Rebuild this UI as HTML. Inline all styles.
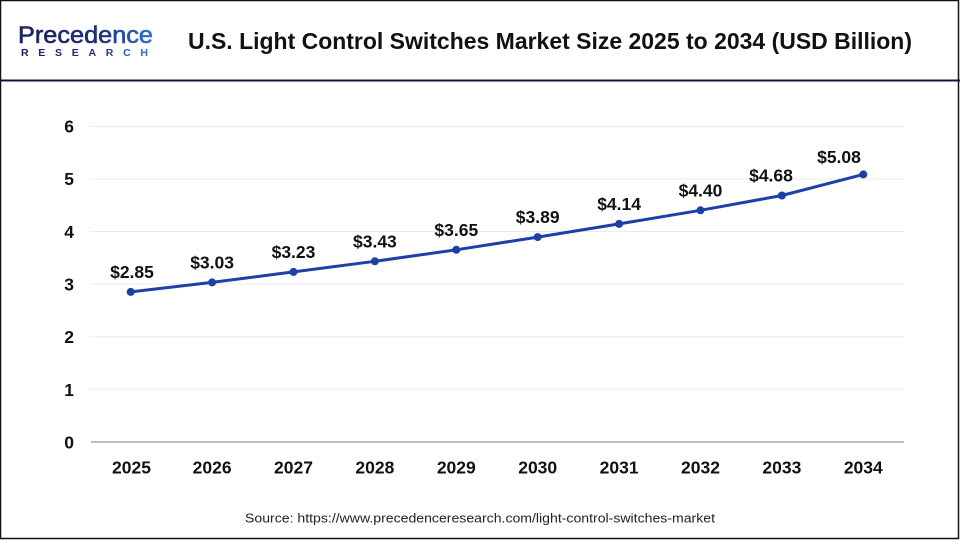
<!DOCTYPE html>
<html><head><meta charset="utf-8"><style>
html,body{margin:0;padding:0;background:#fff;}
svg{display:block;}
</style></head><body>
<svg width="960" height="540" viewBox="0 0 960 540" xmlns="http://www.w3.org/2000/svg">
<defs>
<linearGradient id="lg" x1="0" y1="0" x2="1" y2="0">
<stop offset="0" stop-color="#1b1f5e"/>
<stop offset="0.6" stop-color="#1e2f80"/>
<stop offset="1" stop-color="#2f6fe0"/>
</linearGradient>
</defs>
<rect x="0" y="0" width="960" height="540" fill="#fff"/>
<rect x="0.5" y="0.5" width="958" height="538" fill="none" stroke="#111" stroke-width="1.5"/>
<line x1="0" y1="80.5" x2="960" y2="80.5" stroke="#0d1440" stroke-width="2"/>

<!-- Logo -->
<text x="18" y="43" font-family="Liberation Sans, sans-serif" font-size="24" fill="url(#lg)" stroke="url(#lg)" stroke-width="0.6" textLength="135" lengthAdjust="spacingAndGlyphs">Precedence</text>
<text x="21" y="56" font-family="Liberation Sans, sans-serif" font-weight="bold" font-size="10.5" fill="url(#lg)" textLength="127" lengthAdjust="spacing">RESEARCH</text>

<!-- Title -->
<text x="188" y="49" font-family="Liberation Sans, sans-serif" font-weight="bold" font-size="23.5" fill="#111" textLength="724" lengthAdjust="spacingAndGlyphs">U.S. Light Control Switches Market Size 2025 to 2034 (USD Billion)</text>

<!-- Grid -->
<g stroke="#ebebeb" stroke-width="1">
<line x1="90" y1="126.5" x2="904" y2="126.5"/>
<line x1="90" y1="179" x2="904" y2="179"/>
<line x1="90" y1="231.5" x2="904" y2="231.5"/>
<line x1="90" y1="284" x2="904" y2="284"/>
<line x1="90" y1="336.7" x2="904" y2="336.7"/>
<line x1="90" y1="389.3" x2="904" y2="389.3"/>
</g>
<line x1="91" y1="442" x2="904" y2="442" stroke="#bfbfbf" stroke-width="2"/>

<!-- Y ticks -->
<g font-family="Liberation Sans, sans-serif" font-weight="bold" font-size="17.5" fill="#111" text-anchor="end">
<text x="74" y="132.5">6</text>
<text x="74" y="185.2">5</text>
<text x="74" y="237.8">4</text>
<text x="74" y="290.5">3</text>
<text x="74" y="343.2">2</text>
<text x="74" y="395.8">1</text>
<text x="74" y="448.5">0</text>
</g>

<!-- X ticks -->
<g font-family="Liberation Sans, sans-serif" font-weight="bold" font-size="17.5" fill="#111" text-anchor="middle">
<text x="131.5" y="473.3">2025</text>
<text x="212.1" y="473.3">2026</text>
<text x="293.5" y="473.3">2027</text>
<text x="374.9" y="473.3">2028</text>
<text x="456.3" y="473.3">2029</text>
<text x="537.7" y="473.3">2030</text>
<text x="619.1" y="473.3">2031</text>
<text x="700.5" y="473.3">2032</text>
<text x="781.9" y="473.3">2033</text>
<text x="863.3" y="473.3">2034</text>
</g>

<!-- Line -->
<polyline fill="none" stroke="#1c3fa8" stroke-width="3" stroke-linejoin="round"
points="130.7,291.9 212.1,282.4 293.5,271.9 374.9,261.3 456.3,249.8 537.7,237.1 619.1,223.9 700.5,210.3 781.9,195.5 863.3,174.4"/>
<g fill="#1c3fa8">
<circle cx="130.7" cy="291.9" r="4"/>
<circle cx="212.1" cy="282.4" r="4"/>
<circle cx="293.5" cy="271.9" r="4"/>
<circle cx="374.9" cy="261.3" r="4"/>
<circle cx="456.3" cy="249.8" r="4"/>
<circle cx="537.7" cy="237.1" r="4"/>
<circle cx="619.1" cy="223.9" r="4"/>
<circle cx="700.5" cy="210.3" r="4"/>
<circle cx="781.9" cy="195.5" r="4"/>
<circle cx="863.3" cy="174.4" r="4"/>
</g>

<!-- Data labels -->
<g font-family="Liberation Sans, sans-serif" font-weight="bold" font-size="17.5" fill="#111" text-anchor="middle">
<text x="132" y="277.9">$2.85</text>
<text x="212.1" y="268.4">$3.03</text>
<text x="293.5" y="257.9">$3.23</text>
<text x="374.9" y="247.3">$3.43</text>
<text x="456.3" y="235.8">$3.65</text>
<text x="537.7" y="223.1">$3.89</text>
<text x="619.1" y="209.9">$4.14</text>
<text x="700.5" y="196.3">$4.40</text>
<text x="771" y="181.5">$4.68</text>
<text x="839" y="163">$5.08</text>
</g>

<!-- Source -->
<text x="245" y="522.5" font-family="Liberation Sans, sans-serif" font-size="13" fill="#222" textLength="470" lengthAdjust="spacingAndGlyphs">Source: https://www.precedenceresearch.com/light-control-switches-market</text>
</svg>
</body></html>
